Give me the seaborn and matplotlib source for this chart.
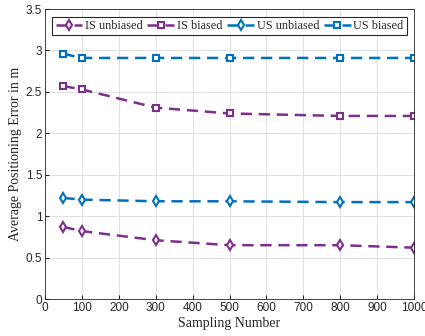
import matplotlib
matplotlib.use("Agg")
import matplotlib.pyplot as plt
import pandas as pd
import seaborn as sns

# Data
sampling = [50, 100, 300, 500, 800, 1000]
is_unbiased = [0.87, 0.82, 0.71, 0.65, 0.65, 0.62]
is_biased = [2.57, 2.53, 2.31, 2.24, 2.21, 2.21]
us_unbiased = [1.22, 1.20, 1.18, 1.18, 1.17, 1.17]
us_biased = [2.96, 2.91, 2.91, 2.91, 2.91, 2.91]

series_names = ["IS unbiased", "IS biased", "US unbiased", "US biased"]
series_vals = [is_unbiased, is_biased, us_unbiased, us_biased]

df = pd.concat(
    [pd.DataFrame({"x": sampling, "y": v, "series": n}) for n, v in zip(series_names, series_vals)],
    ignore_index=True,
)

purple = "#7E2F8E"
blue = "#0072BD"
palette = {"IS unbiased": purple, "IS biased": purple, "US unbiased": blue, "US biased": blue}
markers = {"IS unbiased": "d", "IS biased": "s", "US unbiased": "d", "US biased": "s"}

sns.set_style("whitegrid")
plt.rcParams["font.family"] = ["Liberation Sans", "DejaVu Sans"]

fig = plt.figure(figsize=(4.25, 3.36), dpi=100)
ax = fig.add_axes([0.106, 0.110, 0.868, 0.863])

for name in series_names:
    sub = df[df["series"] == name]
    sns.lineplot(
        data=sub, x="x", y="y", ax=ax, color=palette[name], marker=markers[name],
        markersize=5.5 if markers[name] == "d" else 4, markerfacecolor="white",
        markeredgecolor=palette[name], markeredgewidth=1.5,
        linestyle=(0, (4.5, 2.7)), linewidth=1.8, label=name,
    )

ax.set_xlim(0, 1000)
ax.set_ylim(0, 3.5)
ax.set_xticks(range(0, 1001, 100))
ax.set_yticks([0, 0.5, 1, 1.5, 2, 2.5, 3, 3.5])
ax.set_yticklabels(["0", "0.5", "1", "1.5", "2", "2.5", "3", "3.5"])
ax.tick_params(labelsize=8.5, colors="#262626", direction="in", length=3, left=True, bottom=True, pad=2)
ax.grid(True, color="#dcdcdc", linewidth=0.6)
for s in ax.spines.values():
    s.set_color("#262626")
    s.set_linewidth(0.6)

serif = ["Liberation Serif", "DejaVu Serif"]
ax.set_xlabel("Sampling Number", family=serif, fontsize=10, labelpad=2)
ax.set_ylabel("Average Positioning Error in m", family=serif, fontsize=10, labelpad=3)

leg = ax.legend(
    loc="upper center", ncol=4, bbox_to_anchor=(0.5, 0.985), frameon=True, fancybox=False,
    prop={"family": serif, "size": 8.8}, handlelength=2.2, columnspacing=0.4,
    handletextpad=0.2, borderpad=0.25, borderaxespad=0.3,
)
leg.get_frame().set_edgecolor("#262626")
leg.get_frame().set_linewidth(0.8)
leg.get_frame().set_alpha(1)

fig.savefig("out.png", dpi=100)
